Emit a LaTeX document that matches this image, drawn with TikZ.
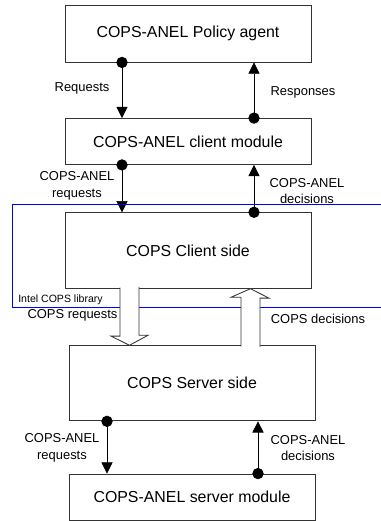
\documentclass[tikz,border=0pt]{standalone}
\usepackage{fontspec}
\setmainfont{Liberation Sans}
\usetikzlibrary{arrows.meta}

\begin{document}
\begin{tikzpicture}[x=0.025cm,y=-0.025cm,
   box/.style={draw=black!80,line width=0.6pt,fill=white,minimum width=6.15cm,font=\fontsize{11.3}{13}\selectfont},
   lbl/.style={font=\fontsize{9.2}{11.8}\selectfont,align=center,inner sep=0pt},
   msg/.style={line width=0.5pt,{Circle[length=8pt]}-{Triangle[length=8pt,width=8pt]},shorten <=-4pt},
   bigarrow/.style={draw=black!80,line width=0.6pt,fill=white,line join=miter}]
   \useasboundingbox (0,0) rectangle (381,521);
   \node[box,minimum height=1.425cm] (agent) at (188,33.5) {COPS-ANEL Policy agent};
   \node[box,minimum height=1.15cm] (cmod) at (188,141.5) {COPS-ANEL client module};
   \node[box,minimum height=1.89cm] (cside) at (188,250.5) {COPS Client side};
   \node[box,minimum height=1.88cm] (sside) at (192,383.3) {COPS Server side};
   \node[box,minimum height=1.15cm] (smod) at (192,497) {COPS-ANEL server module};
   \coordinate (c1) at (122,0);
   \coordinate (c2) at (254,0);
   \coordinate (c3) at (107,0);
   \coordinate (c4) at (258,0);
   \coordinate (c5) at (129.5,0);
   \coordinate (c6) at (250.5,0);
   \draw[msg] (agent.south -| c1) -- (cmod.north -| c1);
   \draw[msg] (cmod.north -| c2) -- (agent.south -| c2);
   \draw[msg] (cmod.south -| c1) -- (cside.north -| c1);
   \draw[msg] (cside.north -| c2) -- (cmod.south -| c2);
   \draw[msg] (sside.south -| c3) -- (smod.north -| c3);
   \draw[msg] (smod.north -| c4) -- (sside.south -| c4);
   \node[lbl] (lreq) at (82,88) {Requests};
   \node[lbl] (lresp) at (303,92) {Responses};
   \node[lbl] (lcreq) at (77,186) {COPS-ANEL\\requests};
   \node[lbl] (lcdec) at (307,191) {COPS-ANEL\\decisions};
   \node[lbl] (lsreq) at (62,448) {COPS-ANEL\\requests};
   \node[lbl] (lsdec) at (308,448) {COPS-ANEL\\decisions};
   \draw[blue,line width=0.9pt] (381,204.5) -- (12.5,204.5) -- (12.5,307.5) -- (381,307.5);
   \node[font=\fontsize{7.5}{9}\selectfont,inner sep=0pt] (lib) at (60.5,300) {Intel COPS library};
   \draw[bigarrow] (cside.south -| c5) ++(-9.5,-1) -- ++(0,48.4) -- ++(-9,0) -- (sside.north -| c5) -- ++(18.5,-10) -- ++(-9,0) -- ++(0,-48.4);
   \draw[bigarrow] (sside.north -| c6) ++(-9.5,1) -- ++(0,-49) -- ++(-10,0) -- (cside.south -| c6) -- ++(18.5,9.4) -- ++(-9,0) -- ++(0,49);
   \node[lbl] (lreqs) at (72.5,315.7) {COPS requests};
   \node[lbl] (ldecs) at (318,318.5) {COPS decisions};
\end{tikzpicture}
\end{document}
